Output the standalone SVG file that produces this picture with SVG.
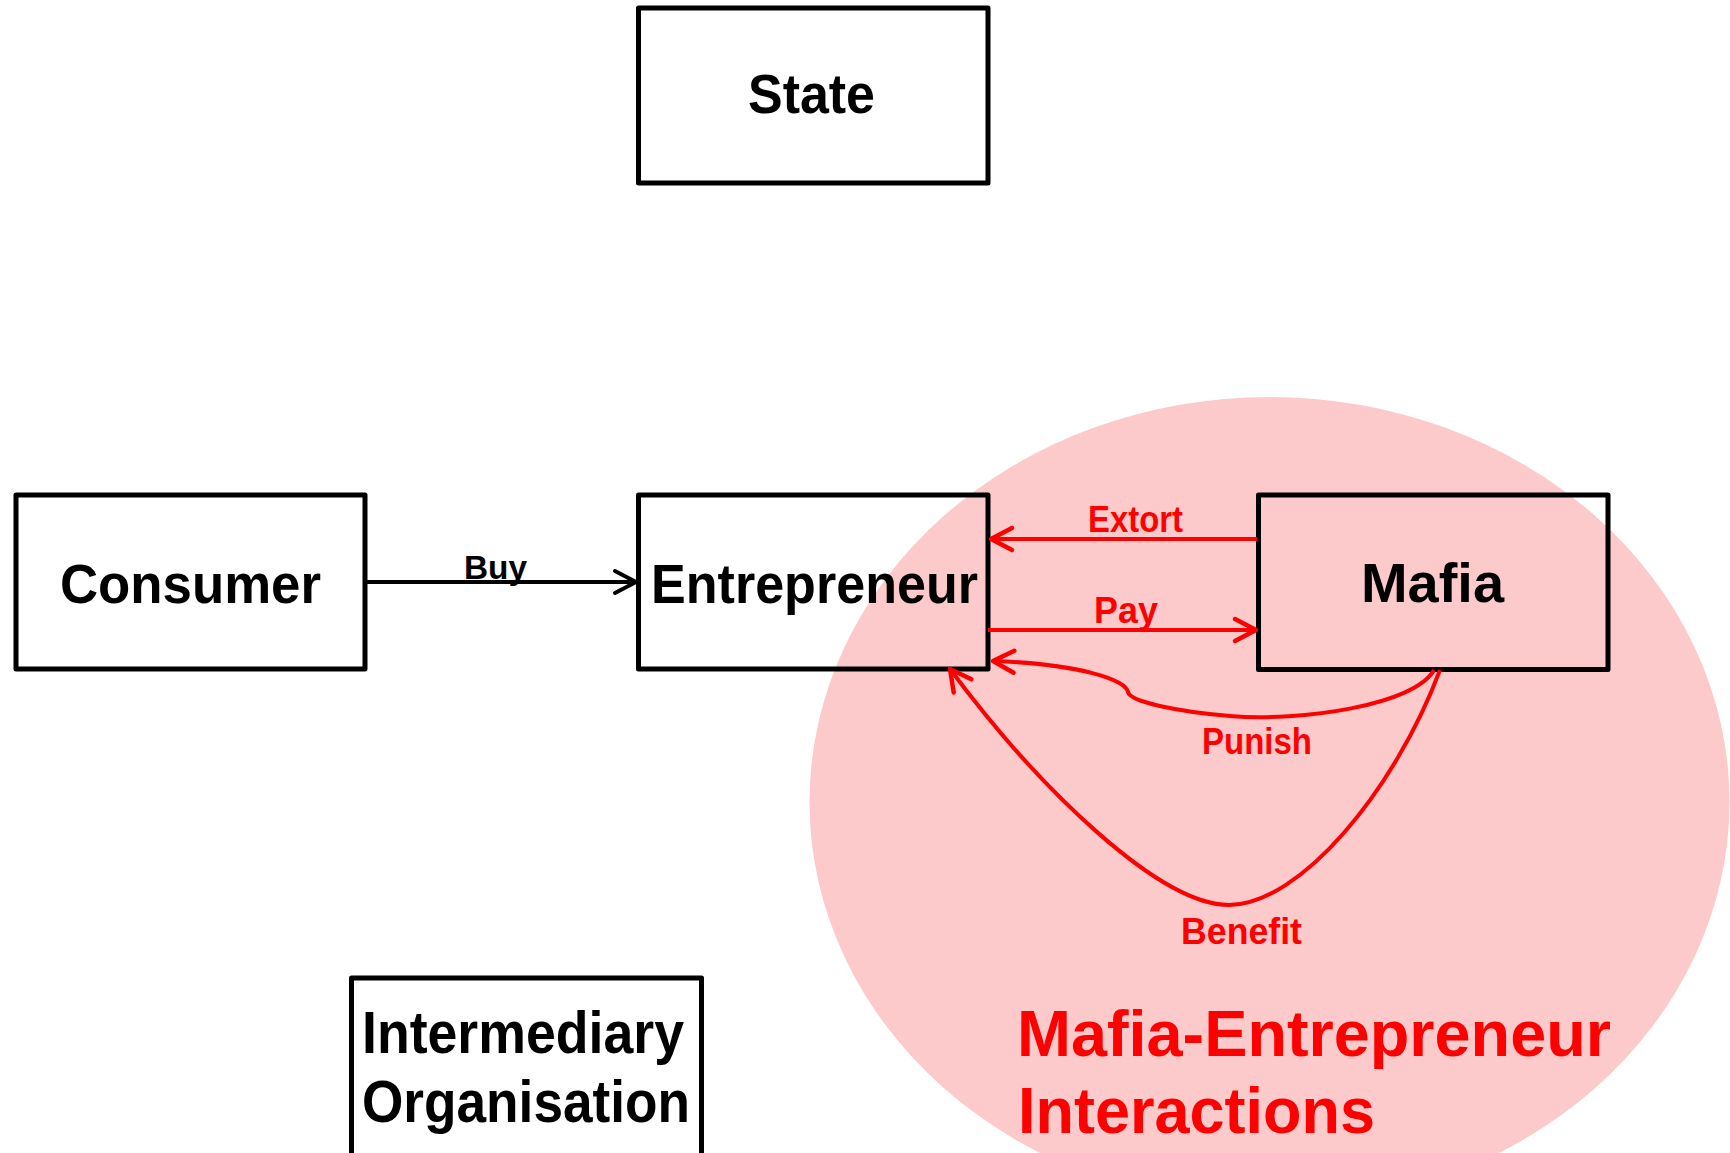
<svg xmlns="http://www.w3.org/2000/svg" width="1730" height="1153" viewBox="0 0 1730 1153">
  <style>
    .box { fill: none; stroke: #000000; stroke-width: 5; stroke-linejoin: round; }
    .lbl { font-family: "Liberation Sans", Arial, sans-serif; font-weight: bold; font-size: 56px; fill: #000000; }
    .elbl { font-family: "Liberation Sans", Arial, sans-serif; font-weight: bold; font-size: 37px; fill: #FF0000; }
    .big { font-family: "Liberation Sans", Arial, sans-serif; font-weight: bold; font-size: 64px; fill: #FF0000; }
    .red { fill: none; stroke: #FF0000; stroke-width: 4; }
    .blk { fill: none; stroke: #000000; stroke-width: 4; }
  </style>
  <defs>
    <marker id="ah-red" markerUnits="userSpaceOnUse" viewBox="-26 -16 30 32" refX="0" refY="0" markerWidth="30" markerHeight="32" orient="auto" overflow="visible">
      <path d="M-21,-11 L0,0 L-21,11" fill="none" stroke="#FF0000" stroke-width="4.5" stroke-linecap="round" stroke-linejoin="round"/>
    </marker>
    <marker id="ah-blk" markerUnits="userSpaceOnUse" viewBox="-26 -16 30 32" refX="0" refY="0" markerWidth="30" markerHeight="32" orient="auto" overflow="visible">
      <path d="M-21,-11 L0,0 L-21,11" fill="none" stroke="#000000" stroke-width="4" stroke-linecap="round" stroke-linejoin="round"/>
    </marker>
  </defs>

  <g id="region-mafia-entrepreneur">
    <ellipse cx="1269.5" cy="802" rx="460" ry="405" fill="#FCCACA"/>
    <text class="big" x="1017" y="1056" textLength="594" lengthAdjust="spacingAndGlyphs">Mafia-Entrepreneur</text>
    <text class="big" x="1018" y="1133" textLength="357" lengthAdjust="spacingAndGlyphs">Interactions</text>
  </g>

  <g id="node-state">
    <rect class="box" x="638.5" y="8" width="349.5" height="175"/>
    <text class="lbl" x="748" y="113" textLength="127" lengthAdjust="spacingAndGlyphs">State</text>
  </g>

  <g id="node-consumer">
    <rect class="box" x="16" y="495" width="349" height="174"/>
    <text class="lbl" x="60" y="603" textLength="261" lengthAdjust="spacingAndGlyphs">Consumer</text>
  </g>

  <g id="node-entrepreneur">
    <rect class="box" x="638.5" y="495" width="349.5" height="174"/>
    <text class="lbl" x="651" y="603" textLength="327" lengthAdjust="spacingAndGlyphs">Entrepreneur</text>
  </g>

  <g id="node-mafia">
    <rect class="box" x="1258.5" y="495" width="349.5" height="174.5"/>
    <text class="lbl" x="1361" y="602" textLength="143" lengthAdjust="spacingAndGlyphs">Mafia</text>
  </g>

  <g id="node-intermediary">
    <rect class="box" x="351.5" y="978" width="350" height="180"/>
    <text class="lbl" x="362" y="1053" style="font-size:59px" textLength="322" lengthAdjust="spacingAndGlyphs">Intermediary</text>
    <text class="lbl" x="362" y="1122" style="font-size:59px" textLength="328" lengthAdjust="spacingAndGlyphs">Organisation</text>
  </g>

  <g id="connectors">
    <path class="blk" d="M366,582 L636,582" marker-end="url(#ah-blk)"/>
    <text class="elbl" x="464" y="579" style="fill:#000000;font-size:33px" textLength="63" lengthAdjust="spacingAndGlyphs">Buy</text>

    <path class="red" d="M1257,539 L991,539" marker-end="url(#ah-red)"/>
    <text class="elbl" x="1088" y="532" textLength="95" lengthAdjust="spacingAndGlyphs">Extort</text>

    <path class="red" d="M988,630 L1256,630" marker-end="url(#ah-red)"/>
    <text class="elbl" x="1094" y="623" textLength="64" lengthAdjust="spacingAndGlyphs">Pay</text>

    <path class="red" d="M1434,670 C1415,705 1300,722 1230,716 C1180,712 1130,702 1128,692 C1126,680 1080,664 993,661" marker-end="url(#ah-red)"/>
    <text class="elbl" x="1202" y="754" textLength="110" lengthAdjust="spacingAndGlyphs">Punish</text>

    <path class="red" d="M1440,670 C1395,790 1300,905 1229,905 C1160,905 1040,790 950,669" marker-end="url(#ah-red)"/>
    <text class="elbl" x="1181" y="944" textLength="121" lengthAdjust="spacingAndGlyphs">Benefit</text>
  </g>
</svg>
